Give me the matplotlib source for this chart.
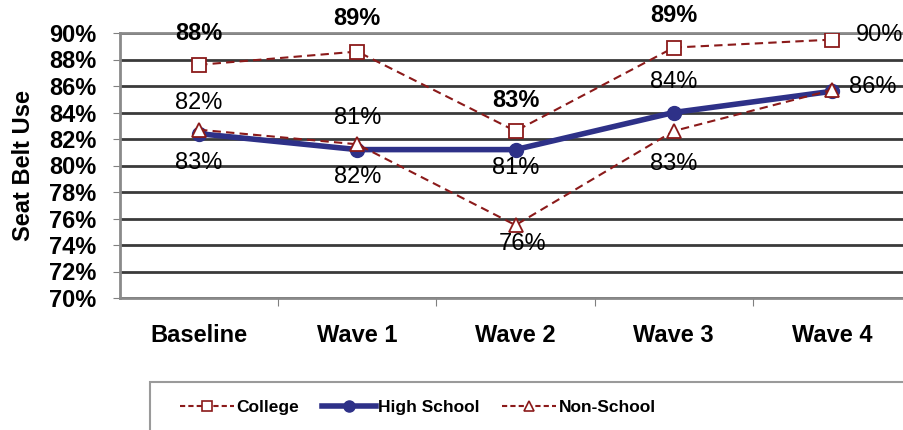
import matplotlib
matplotlib.use("Agg")
import matplotlib.pyplot as plt
from matplotlib.lines import Line2D
from matplotlib.patches import Rectangle

plt.rcParams['font.family'] = ['Liberation Sans', 'DejaVu Sans']

categories = ["Baseline", "Wave 1", "Wave 2", "Wave 3", "Wave 4"]
college = [87.6, 88.6, 82.6, 88.9, 89.5]
high_school = [82.4, 81.2, 81.2, 84.0, 85.6]
non_school = [82.7, 81.6, 75.5, 82.6, 85.7]
y_ticks = list(range(70, 91, 2))

W, H = 904, 430
fig = plt.figure(figsize=(W / 100, H / 100), dpi=100)
ax = fig.add_axes([120 / W, 1 - 298 / H, (911 - 120) / W, (298 - 33) / H])

red = "#8B1A1A"
navy = "#2E3188"
x = list(range(len(categories)))

ax.plot(x, college, color=red, lw=1.5, ls=(0, (4, 2.5)), marker="s", ms=10,
        mfc="white", mec=red, mew=1.3, zorder=4)
ax.plot(x, high_school, color=navy, lw=4, marker="o", ms=10,
        mfc=navy, mec=navy, zorder=3)
ax.plot(x, non_school, color=red, lw=1.5, ls=(0, (4, 2.5)), marker="^", ms=10,
        mfc="white", mec=red, mew=1.3, zorder=5)

ax.set_xlim(-0.5, 4.5)
ax.set_ylim(70, 90)
ax.set_yticks(y_ticks)
ax.set_yticklabels([f"{t}%" for t in y_ticks], fontsize=17, fontweight="bold")
ax.set_xticks([i + 0.5 for i in range(4)], minor=False)
ax.set_xticklabels([])
ax.set_xticks(x, minor=True)
ax.set_xticklabels(categories, minor=True, fontsize=17, fontweight="bold")
ax.tick_params(axis="x", which="minor", length=0, pad=19)
ax.tick_params(axis="x", which="major", length=6, color="#808080")
ax.tick_params(axis="y", length=5, color="#808080", pad=12)
ax.set_ylabel("Seat Belt Use", fontsize=17, fontweight="bold", labelpad=10)

ax.yaxis.grid(True, color="#3a3a3a", lw=2)
ax.set_axisbelow(True)
for s in ax.spines.values():
    s.set_color("#8a8a8a")
    s.set_linewidth(2)

# value labels (pixel offsets from each point)
college_off = [(0, 31), (0, 33), (0, 31), (0, 32), (48, 5)]
hs_off = [(0, 31), (0, 32), (0, -18), (0, 30), (41, 4)]
ns_off = [(0, -33), (0, -33), (7, -19), (0, -33)]
lbl_size = 17

for i, v in enumerate(college):
    ax.annotate(f"{v:.0f}%", (i, v), xytext=college_off[i], textcoords="offset pixels",
                ha="center", va="center", fontsize=lbl_size,
                fontweight="normal" if i == 4 else "bold", annotation_clip=False)
for i, v in enumerate(high_school):
    ax.annotate(f"{v:.0f}%", (i, v), xytext=hs_off[i], textcoords="offset pixels",
                ha="center", va="center", fontsize=lbl_size, annotation_clip=False)
for i, v in enumerate(non_school[:4]):
    ax.annotate(f"{v:.0f}%", (i, v), xytext=ns_off[i], textcoords="offset pixels",
                ha="center", va="center", fontsize=lbl_size, annotation_clip=False)

# legend frame
fig.patches.append(Rectangle((150 / W, -0.1), (920 - 150) / W, 0.1 + 1 - 382 / H,
                             transform=fig.transFigure, fill=False,
                             edgecolor="#9a9a9a", lw=1.5))
handles = [
    Line2D([], [], color=red, lw=1.5, ls=(0, (2.5, 1.5)), marker="s", ms=7,
           mfc="white", mec=red, mew=1.2),
    Line2D([], [], color=navy, lw=4, marker="o", ms=8, mfc=navy, mec=navy),
    Line2D([], [], color=red, lw=1.5, ls=(0, (2.5, 1.5)), marker="^", ms=7,
           mfc="white", mec=red, mew=1.2),
]
fig.legend(handles, ["College", "High School", "Non-School"], ncol=3,
           loc="center left", bbox_to_anchor=(180 / W, 1 - 407 / H),
           frameon=False,
           prop={"weight": "bold", "size": 12.5},
           handlelength=3.1, handletextpad=0.15, columnspacing=1.3,
           borderaxespad=0, borderpad=0)

fig.savefig("out.png", dpi=100)
